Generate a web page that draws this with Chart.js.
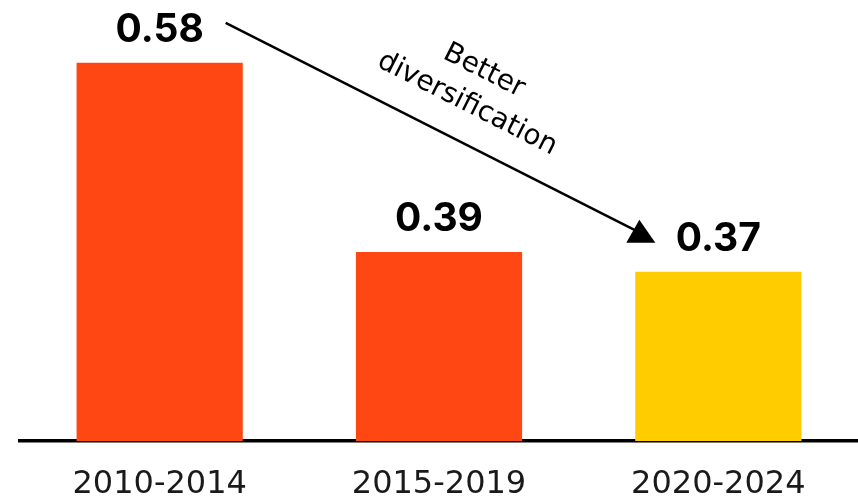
<!DOCTYPE html>
<html>
<head>
<meta charset="utf-8">
<script src="https://cdn.jsdelivr.net/npm/chart.js@4"></script>
<style>
  html, body { margin: 0; padding: 0; background: #fff; }
  #wrap { width: 858px; height: 496px; }
</style>
</head>
<body>
<div id="wrap"><canvas id="myChart"></canvas></div>
<script>
const periods = ['2010-2014', '2015-2019', '2020-2024'];
const correlation = [0.58, 0.39, 0.37];
const barColors = ['#FF4713', '#FF4713', '#FFCC00'];
const arrowText = ['Better', 'diversification'];

// value labels above the bars + the annotation arrow
const extras = {
    id: 'extras',
    afterDatasetsDraw(chart) {
        const ctx = chart.ctx;
        const meta = chart.getDatasetMeta(0);
        ctx.save();
        ctx.fillStyle = '#000';
        ctx.font = 'bold 39px Inter';
        ctx.textAlign = 'center';
        ctx.textBaseline = 'alphabetic';
        meta.data.forEach((bar, i) => {
            ctx.fillText(correlation[i].toFixed(2), bar.x, bar.y - 21);
        });

        const first = meta.data[0];
        const last = meta.data[meta.data.length - 1];
        const x0 = first.x + 66, y0 = first.y - 40;
        const x1 = last.x - 78, y1 = last.y - 39;
        ctx.strokeStyle = '#000';
        ctx.lineWidth = 2.5;
        ctx.beginPath();
        ctx.moveTo(x0, y0);
        ctx.lineTo(x1, y1);
        ctx.stroke();
        // arrow head
        ctx.beginPath();
        ctx.moveTo(x1 - 14, y1 + 10);
        ctx.lineTo(x1 + 15, y1 + 10);
        ctx.lineTo(x1 - 1, y1 - 13);
        ctx.closePath();
        ctx.fill();

        const ang = Math.atan2(y1 - y0, x1 - x0);
        ctx.font = '28px "DejaVu Sans"';
        ctx.textBaseline = 'middle';
        ctx.translate(484, 71);
        ctx.rotate(ang);
        ctx.fillText(arrowText[0], 0, 0);
        ctx.fillText(arrowText[1], 0, 37);
        ctx.restore();
    }
};

const ctx = document.getElementById('myChart').getContext('2d');
const myChart = new Chart(ctx, {
    type: 'bar',
    data: {
        labels: periods,
        datasets: [{
            data: correlation,
            backgroundColor: barColors,
            borderWidth: 0,
            categoryPercentage: 1,
            barPercentage: 0.595
        }]
    },
    options: {
        responsive: true,
        maintainAspectRatio: false,
        animation: false,
        layout: { padding: { left: 20, right: 0, top: 23, bottom: 0 } },
        plugins: {
            legend: { display: false },
            tooltip: { enabled: false }
        },
        scales: {
            y: {
                display: false,
                min: 0.2,
                max: 0.62
            },
            x: {
                grid: { display: false, drawTicks: false },
                border: { display: true, color: '#000', width: 3.5 },
                ticks: {
                    color: '#1a1a1a',
                    padding: 24,
                    font: { family: 'DejaVu Sans', size: 32 }
                },
                afterFit: s => { s.height = 55; }
            }
        }
    },
    plugins: [extras]
});
</script>
</body>
</html>
